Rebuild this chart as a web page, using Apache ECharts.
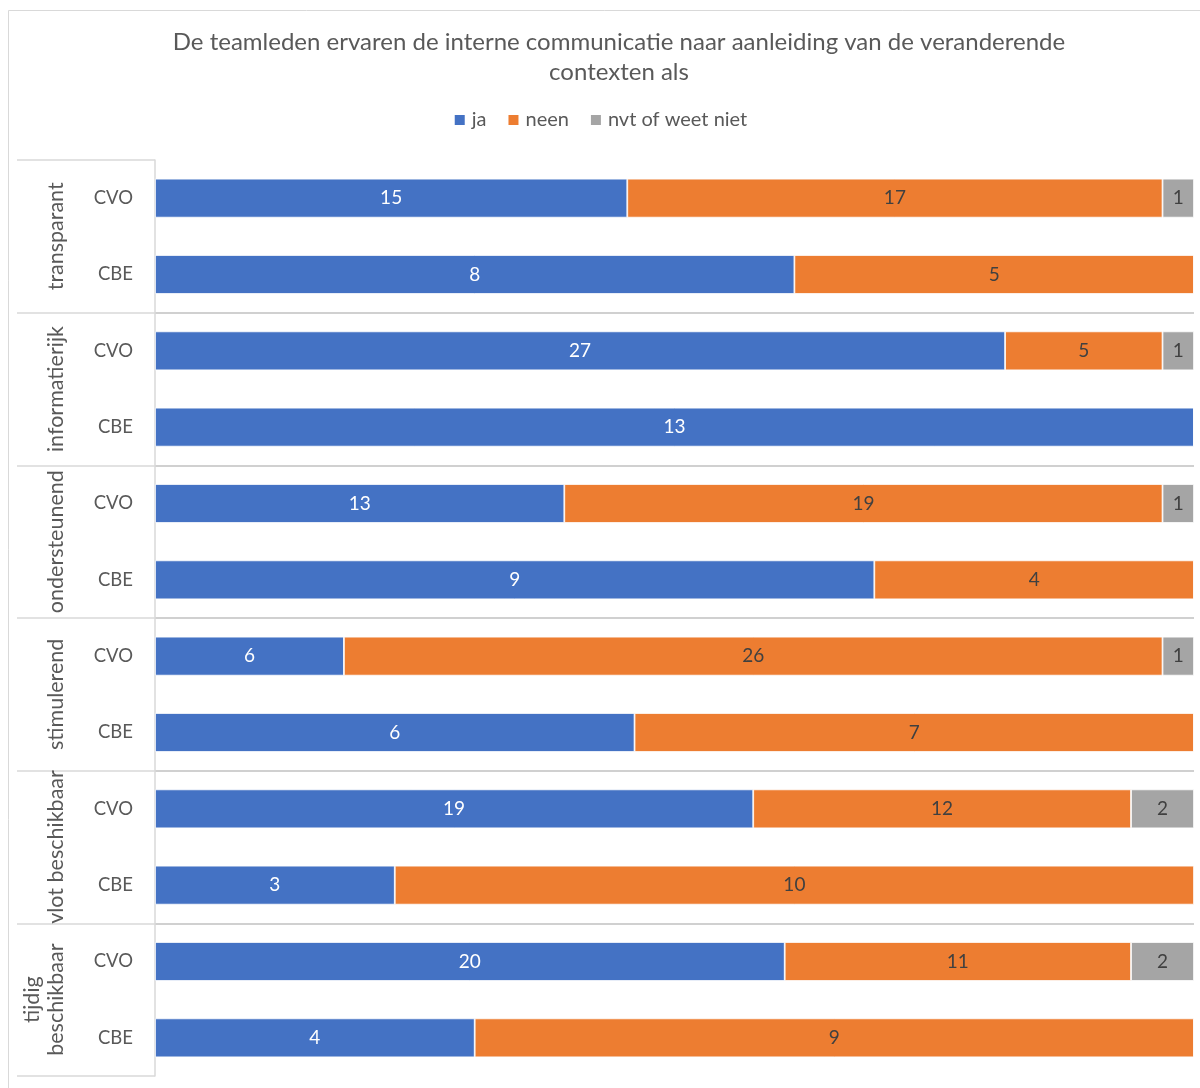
<!DOCTYPE html>
<html>
<head>
<meta charset="utf-8">
<script src="https://cdn.jsdelivr.net/npm/echarts@6/dist/echarts.min.js"></script>
<style>
html,body{margin:0;padding:0;background:#fff;}
#chart{width:1200px;height:1088px;}
</style>
</head>
<body>
<div id="chart"></div>
<script>
const groups = ['transparant', 'informatierijk', 'ondersteunend', 'stimulerend', 'vlot beschikbaar', 'tijdig\nbeschikbaar'];
const rows = ['CVO', 'CBE', 'CVO', 'CBE', 'CVO', 'CBE', 'CVO', 'CBE', 'CVO', 'CBE', 'CVO', 'CBE'];
const seriesNames = ['ja', 'neen', 'nvt of weet niet'];
const ja   = [15, 8, 27, 13, 13, 9, 6, 6, 19, 3, 20, 4];
const neen = [17, 5, 5, 0, 19, 4, 26, 7, 12, 10, 11, 9];
const nvt  = [1, 0, 1, 0, 1, 0, 1, 0, 2, 0, 2, 0];
const titleText = 'De teamleden ervaren de interne communicatie naar aanleiding van de veranderende\ncontexten als';

const raw = [ja, neen, nvt];
const totals = ja.map((v, i) => v + neen[i] + nvt[i]);
const colors = ['#4472C4', '#ED7D31', '#A5A5A5'];
const labelColors = ['#FFFFFF', '#404040', '#404040'];
const FONT = 'Lato, "Open Sans", sans-serif';

const chart = echarts.init(document.getElementById('chart'));
chart.setOption({
  animation: false,
  backgroundColor: '#fff',
  textStyle: { fontFamily: FONT },
  title: {
    text: titleText,
    left: 614, textAlign: 'center', top: 22,
    textStyle: { fontFamily: FONT, fontSize: 24, fontWeight: 'normal', color: '#595959', lineHeight: 30 }
  },
  legend: {
    data: seriesNames,
    top: 105, left: 'center',
    itemWidth: 12, itemHeight: 12, itemGap: 20,
    icon: 'rect',
    textStyle: { fontFamily: FONT, fontSize: 20, color: '#595959', padding: [0, 0, 0, 1] }
  },
  graphic: [{
    type: 'rect', shape: { x: 8.5, y: 10.5, width: 1300, height: 1200 },
    style: { fill: 'none', stroke: '#D9D9D9', lineWidth: 1 }, silent: true, z: -1
  }],
  grid: { left: 155, right: 6, top: 160, bottom: 12, containLabel: false },
  xAxis: {
    type: 'value', min: 0, max: 100, show: false
  },
  yAxis: [{
    type: 'category', data: rows, inverse: true,
    axisLine: { show: true, lineStyle: { color: '#D9D9D9', width: 1.5 } },
    axisTick: { show: false },
    axisLabel: { fontFamily: FONT, fontSize: 18.5, color: '#595959', margin: 22, interval: 0 },
    splitLine: { show: false }
  }, {
    type: 'category', data: groups, inverse: true, position: 'left',
    axisLine: { show: false },
    axisTick: { show: true, interval: 0, length: 138, lineStyle: { color: '#D9D9D9', width: 1.5 } },
    axisLabel: { fontFamily: FONT, fontSize: 21.5, color: '#595959', rotate: 90, margin: 87, lineHeight: 24, interval: 0 },
    splitLine: { show: true, interval: 0, showMinLine: false, showMaxLine: false, lineStyle: { color: '#D0D0D0', width: 2 } }
  }],
  series: raw.map((arr, s) => ({
    name: seriesNames[s],
    type: 'bar', stack: 'total', yAxisIndex: 0,
    barWidth: '51%',
    itemStyle: { color: colors[s], borderColor: '#fff', borderWidth: 0.8 },
    label: {
      show: true, position: 'inside',
      fontFamily: FONT, fontSize: 19, color: labelColors[s],
      formatter: p => (arr[p.dataIndex] ? String(arr[p.dataIndex]) : '')
    },
    data: arr.map((v, i) => v / totals[i] * 100)
  }))
});
</script>
</body>
</html>
